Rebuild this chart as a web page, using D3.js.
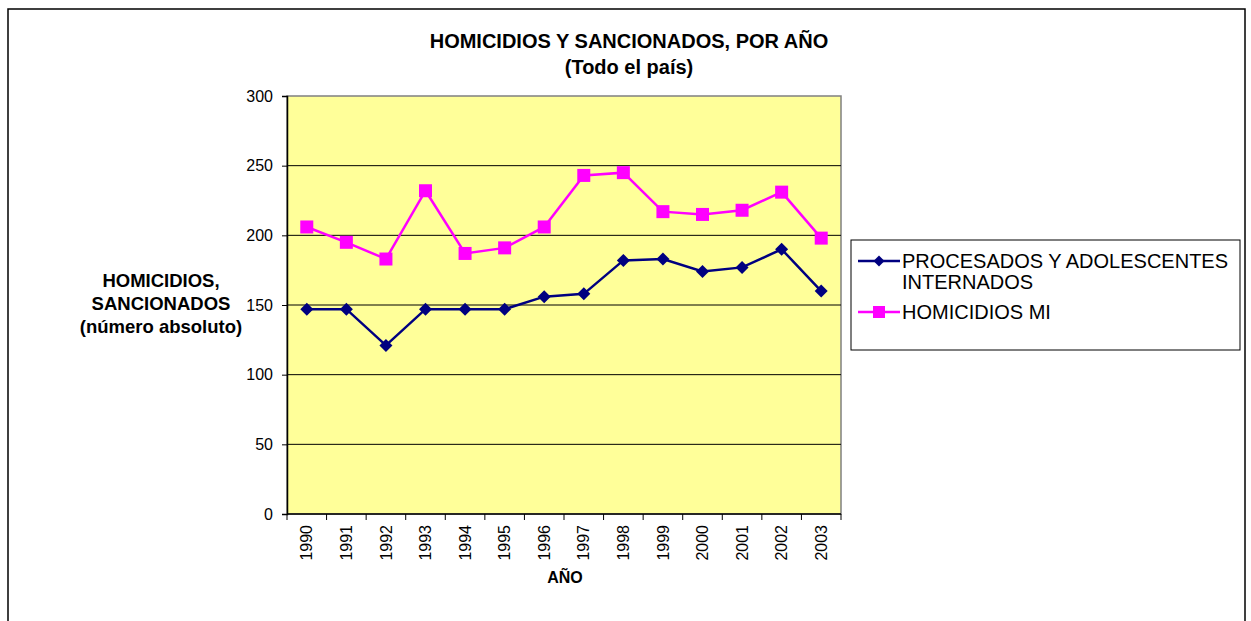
<!DOCTYPE html>
<html>
<head>
<meta charset="utf-8">
<script src="https://cdn.jsdelivr.net/npm/d3@7"></script>
<style>
  body { margin: 0; background: #fff; }
  text { font-family: "Liberation Sans", Arial, sans-serif; }
</style>
</head>
<body>
<div id="chart"></div>
<script>
// data
const years = ["1990", "1991", "1992", "1993", "1994", "1995", "1996",
               "1997", "1998", "1999", "2000", "2001", "2002", "2003"];
const procesados = [147, 147, 121, 147, 147, 147, 156, 158, 182, 183, 174, 177, 190, 160];
const homicidiosMI = [206, 195, 183, 232, 187, 191, 206, 243, 245, 217, 215, 218, 231, 198];
const yTicks = [0, 50, 100, 150, 200, 250, 300];

const series = [
    { name: ["PROCESADOS Y ADOLESCENTES", "INTERNADOS"], values: procesados, color: "#000080", marker: "diamond" },
    { name: ["HOMICIDIOS MI"], values: homicidiosMI, color: "#FF00FF", marker: "square" }
];

const width = 1251, height = 621;
const plot = { left: 287, right: 841, top: 96, bottom: 514 };

const svg = d3.select("#chart").append("svg")
    .attr("width", width)
    .attr("height", height);

// outer chart border (bottom runs off the page)
svg.append("rect")
    .attr("x", 8).attr("y", 9)
    .attr("width", 1237).attr("height", 700)
    .attr("fill", "#fff")
    .attr("stroke", "#000")
    .attr("stroke-width", 1.5);

const x = d3.scaleBand()
    .domain(years)
    .range([plot.left, plot.right]);

const y = d3.scaleLinear()
    .domain([0, 300])
    .range([plot.bottom, plot.top]);

// plot area background
svg.append("rect")
    .attr("x", plot.left).attr("y", plot.top)
    .attr("width", plot.right - plot.left)
    .attr("height", plot.bottom - plot.top)
    .attr("fill", "#FFFF99")
    .attr("stroke", "#808080")
    .attr("stroke-width", 1.5);

// gridlines
svg.append("g")
    .selectAll("line")
    .data(yTicks.filter(d => d > 0 && d < 300))
    .enter().append("line")
    .attr("x1", plot.left).attr("x2", plot.right)
    .attr("y1", d => y(d)).attr("y2", d => y(d))
    .attr("stroke", "#000")
    .attr("stroke-width", 1);

// y axis
const yAxis = svg.append("g")
    .attr("transform", `translate(${plot.left},0)`)
    .call(d3.axisLeft(y).tickValues(yTicks).tickSize(5).tickPadding(9));
yAxis.selectAll("text")
    .attr("font-size", "16px")
    .attr("fill", "#000");
yAxis.select(".domain").attr("stroke", "#000").attr("stroke-width", 1.5);

// x axis: ticks on the category boundaries
const xAxis = svg.append("g")
    .attr("transform", `translate(0,${plot.bottom})`);
xAxis.append("line")
    .attr("x1", plot.left).attr("x2", plot.right)
    .attr("stroke", "#000").attr("stroke-width", 1.5);
xAxis.selectAll(".tick")
    .data(years.concat(["end"]))
    .enter().append("line")
    .attr("x1", (d, i) => plot.left + i * x.step())
    .attr("x2", (d, i) => plot.left + i * x.step())
    .attr("y1", 0).attr("y2", 6)
    .attr("stroke", "#000");
xAxis.selectAll("text")
    .data(years)
    .enter().append("text")
    .attr("transform", d => `translate(${x(d) + x.bandwidth() / 2},11) rotate(-90)`)
    .attr("text-anchor", "end")
    .attr("dy", "0.35em")
    .attr("font-size", "16px")
    .text(d => d);

// lines and markers
const line = d3.line()
    .x((d, i) => x(years[i]) + x.bandwidth() / 2)
    .y(d => y(d));

function drawMarker(sel, type, color, size) {
    if (type === "diamond") {
        sel.append("path")
            .attr("d", `M0,${-size}L${size},0L0,${size}L${-size},0Z`)
            .attr("fill", color);
    } else {
        sel.append("rect")
            .attr("x", -size).attr("y", -size)
            .attr("width", size * 2).attr("height", size * 2)
            .attr("fill", color);
    }
}

series.forEach(s => {
    svg.append("path")
        .datum(s.values)
        .attr("fill", "none")
        .attr("stroke", s.color)
        .attr("stroke-width", 2.5)
        .attr("d", line);
    svg.append("g")
        .selectAll("g")
        .data(s.values)
        .enter().append("g")
        .attr("transform", (d, i) => `translate(${x(years[i]) + x.bandwidth() / 2},${y(d)})`)
        .each(function() { drawMarker(d3.select(this), s.marker, s.color, 6.5); });
});

// titles
svg.append("text")
    .attr("x", 629).attr("y", 48)
    .attr("text-anchor", "middle")
    .attr("font-size", "20px").attr("font-weight", "bold")
    .text("HOMICIDIOS Y SANCIONADOS, POR AÑO");
svg.append("text")
    .attr("x", 629).attr("y", 74)
    .attr("text-anchor", "middle")
    .attr("font-size", "20px").attr("font-weight", "bold")
    .text("(Todo el país)");

svg.append("text")
    .attr("x", 565).attr("y", 583)
    .attr("text-anchor", "middle")
    .attr("font-size", "16px").attr("font-weight", "bold")
    .text("AÑO");

const yTitle = ["HOMICIDIOS,", "SANCIONADOS", "(número absoluto)"];
svg.append("g").selectAll("text")
    .data(yTitle)
    .enter().append("text")
    .attr("x", 161)
    .attr("y", (d, i) => 287 + i * 23)
    .attr("text-anchor", "middle")
    .attr("font-size", "18.5px").attr("font-weight", "bold")
    .text(d => d);

// legend
const legend = svg.append("g");
legend.append("rect")
    .attr("x", 851).attr("y", 240)
    .attr("width", 389).attr("height", 110)
    .attr("fill", "#fff")
    .attr("stroke", "#000");

const legendRows = [
    { y: 261, lines: [268, 289] },
    { y: 312, lines: [319] }
];
series.forEach((s, i) => {
    const row = legendRows[i];
    const g = legend.append("g");
    g.append("line")
        .attr("x1", 858).attr("x2", 900)
        .attr("y1", row.y).attr("y2", row.y)
        .attr("stroke", s.color).attr("stroke-width", 2.5);
    const m = g.append("g").attr("transform", `translate(879,${row.y})`);
    drawMarker(m, s.marker, s.color, s.marker === "diamond" ? 5.5 : 6);
    s.name.forEach((t, j) => {
        g.append("text")
            .attr("x", 902).attr("y", row.lines[j])
            .attr("font-size", "20px")
            .text(t);
    });
});
</script>
</body>
</html>
